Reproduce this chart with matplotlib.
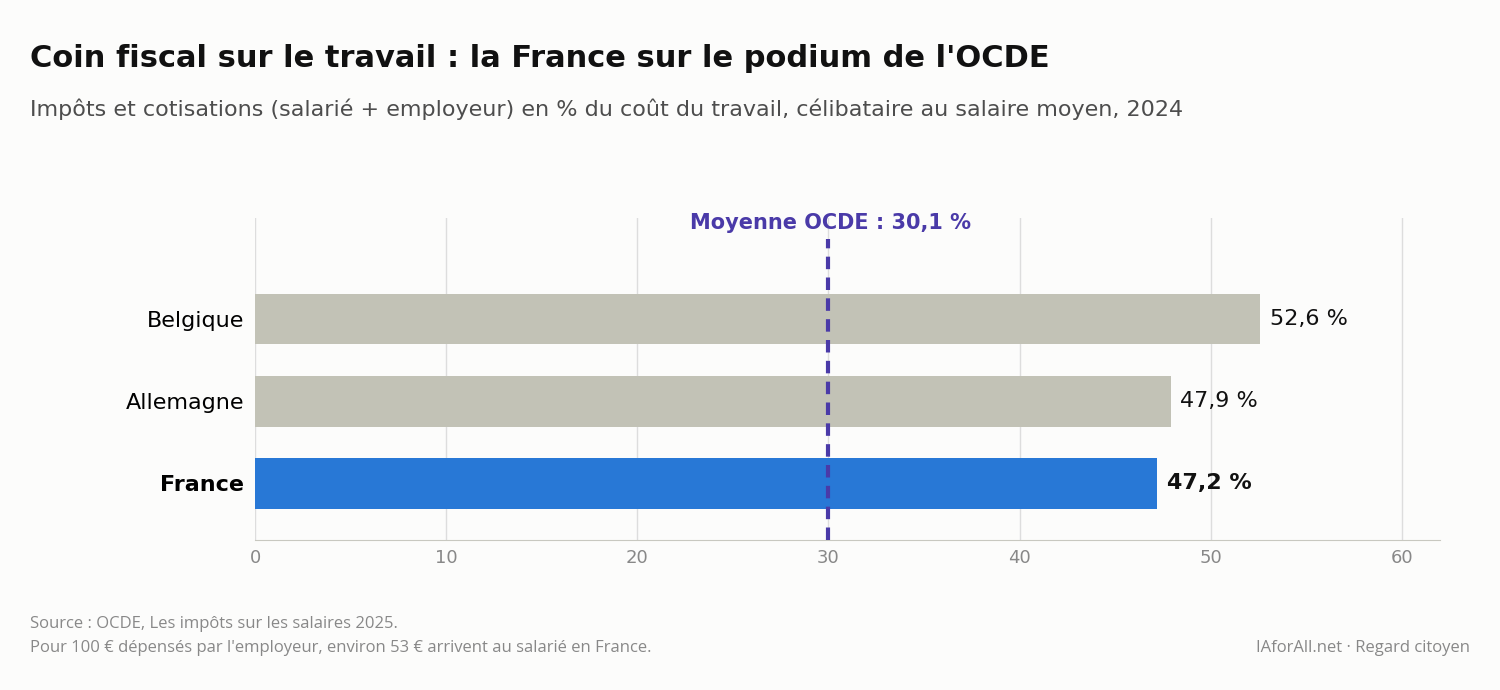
import matplotlib
matplotlib.use('Agg')
import matplotlib.pyplot as plt

# Données
pays = ['France', 'Allemagne', 'Belgique']
coin_fiscal = [47.2, 47.9, 52.6]
couleurs = ['#2878d6', '#c2c2b6', '#c2c2b6']
moyenne_ocde = 30.1
xticks = [0, 10, 20, 30, 40, 50, 60]

BG = '#fcfcfb'
fig = plt.figure(figsize=(15, 6.9), dpi=100, facecolor=BG)
ax = fig.add_axes([0.17, 0.217, 0.79, 0.467], facecolor=BG)

ypos = list(range(len(pays)))
ax.barh(ypos, coin_fiscal, height=0.62, color=couleurs, zorder=2)
ax.set_xlim(0, 62)
ax.set_ylim(-0.695, 3.23)

for y, v, p in zip(ypos, coin_fiscal, pays):
    bold = p == 'France'
    ax.text(v + 0.5, y, f"{v:.1f} %".replace('.', ','), va='center', ha='left',
            fontsize=16, fontweight='bold' if bold else 'normal', color='#111111')

ax.set_yticks(ypos)
ax.set_yticklabels(pays, fontsize=16)
ax.get_yticklabels()[0].set_fontweight('bold')
ax.tick_params(axis='y', length=0, pad=8)
ax.set_xticks(xticks)
ax.tick_params(axis='x', length=0, labelsize=13, labelcolor='#888888', pad=6)
ax.grid(axis='x', color='#dddddd', linewidth=1, zorder=0)
for s in ['top', 'right', 'left']:
    ax.spines[s].set_visible(False)
ax.spines['bottom'].set_color('#c8c8c0')

# Ligne moyenne OCDE
ax.plot([moyenne_ocde - 0.1] * 2, [-0.695, 2.98], color='#4a3aa8', lw=3,
        linestyle=(0, (3, 2)), zorder=3)
ax.text(moyenne_ocde, 3.17, f"Moyenne OCDE : {moyenne_ocde:.1f} %".replace('.', ','),
        ha='center', va='center', fontsize=15, fontweight='bold', color='#4a3aa8')

fig.text(0.02, 0.915, "Coin fiscal sur le travail : la France sur le podium de l'OCDE",
         fontsize=22, fontweight='bold', color='#111111', va='center')
fig.text(0.02, 0.842, "Impôts et cotisations (salarié + employeur) en % du coût du travail, célibataire au salaire moyen, 2024",
         fontsize=16, color='#4d4d4d', va='center')

fig.text(0.02, 0.096, "Source : OCDE, Les impôts sur les salaires 2025.",
         fontsize=12, color='#888888', va='center', family='Open Sans')
fig.text(0.02, 0.061, "Pour 100 € dépensés par l'employeur, environ 53 € arrivent au salarié en France.",
         fontsize=12, color='#888888', va='center', family='Open Sans')
fig.text(0.98, 0.061, "IAforAll.net · Regard citoyen",
         fontsize=12, color='#888888', va='center', ha='right', family='Open Sans')

fig.savefig('out.png', dpi=100, facecolor=BG)
